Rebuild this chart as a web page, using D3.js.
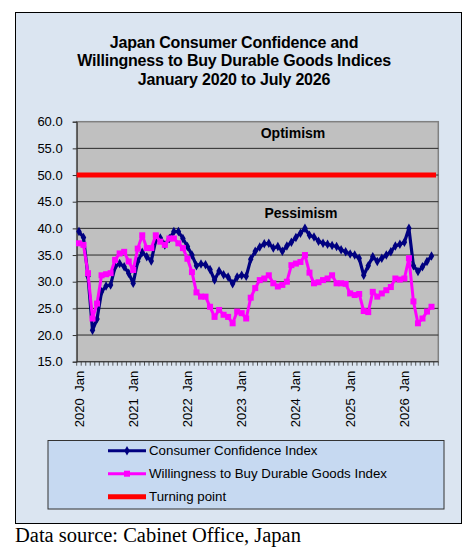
<!DOCTYPE html>
<html>
<head>
<meta charset="utf-8">
<script src="https://cdn.jsdelivr.net/npm/d3@7"></script>
<style>
  body { margin: 0; background: #fff; }
  svg { display: block; font-family: "Liberation Sans", Arial, sans-serif; }
</style>
</head>
<body>
<svg id="chart" width="473" height="552"></svg>
<script>
// categories: one per month, Jan 2020 .. Jul 2026
const years = [2020, 2021, 2022, 2023, 2024, 2025, 2026];
const monthNames = ["Jan","Feb","Mar","Apr","May","Jun","Jul","Aug","Sep","Oct","Nov","Dec"];
const months = [];
years.forEach(yr => monthNames.forEach((m, i) => { if (yr < 2026 || i < 7) months.push(yr + " " + m); }));

// Consumer Confidence Index
const consumerConfidence = [
  39.4, 38.3, 31.0, 20.9, 23.0, 28.1, 29.2, 29.4, 32.8, 33.4, 32.8, 31.6,
  29.7, 33.8, 35.5, 34.7, 33.9, 37.8, 38.2, 36.9, 38.1, 39.4, 39.4, 38.1,
  36.6, 35.0, 33.0, 33.3, 33.2, 32.3, 30.3, 32.0, 31.3, 30.9, 29.6, 30.9,
  31.2, 31.0, 34.2, 35.7, 36.5, 37.1, 37.2, 36.3, 36.6, 35.7, 36.7, 37.4,
  38.3, 39.1, 40.0, 38.7, 38.4, 37.6, 37.2, 37.0, 36.8, 36.6, 36.0, 35.6,
  35.2, 35.0, 34.4, 31.2, 33.0, 34.7, 33.8, 34.4, 35.0, 35.6, 36.7, 37.0,
  37.4, 40.0, 33.0, 31.9, 32.8, 33.8, 34.8
];

// Willingness to Buy Durable Goods Index
const durableGoods = [
  37.2, 36.9, 31.6, 23.1, 25.9, 31.2, 31.4, 31.6, 34.1, 35.3, 35.6, 33.8,
  32.2, 36.2, 38.7, 36.3, 36.3, 38.7, 37.5, 36.9, 38.1, 38.1, 37.2, 36.3,
  34.3, 31.8, 28.0, 27.2, 27.2, 25.3, 23.4, 24.7, 23.8, 23.4, 22.2, 24.4,
  24.1, 23.1, 27.0, 28.8, 30.3, 30.6, 31.2, 29.7, 29.1, 29.4, 30.0, 33.1,
  33.4, 33.7, 35.0, 31.7, 29.7, 29.9, 30.3, 30.6, 31.2, 29.7, 29.7, 29.6,
  27.8, 27.5, 27.7, 24.5, 24.3, 28.1, 27.2, 27.8, 28.4, 29.0, 30.6, 30.4,
  30.6, 34.4, 26.3, 22.2, 23.1, 24.4, 25.3
];

const turningPoint = 50;
const yTicks = [15, 20, 25, 30, 35, 40, 45, 50, 55, 60];
const xLabelMonths = ["2020 Jan", "2021 Jan", "2022 Jan", "2023 Jan", "2024 Jan", "2025 Jan", "2026 Jan"];
const legendItems = ["Consumer Confidence Index", "Willingness to Buy Durable Goods Index", "Turning point"];

const svg = d3.select("#chart");
const plot = { left: 76.7, right: 438.3, top: 121.7, bottom: 361.7 };

// outer chart box
svg.append("rect").attr("x", 15.5).attr("y", 12.5).attr("width", 446).attr("height", 511)
  .attr("fill", "#dbe5f1").attr("stroke", "#000").attr("stroke-width", 1);

// title
const title = ["Japan Consumer Confidence and", "Willingness to Buy Durable Goods Indices", "January 2020 to July 2026"];
svg.append("g").selectAll("text").data(title).join("text")
  .attr("x", 234).attr("y", (d, i) => 48 + i * 18.3)
  .attr("text-anchor", "middle").attr("font-size", 16).attr("font-weight", "bold")
  .attr("letter-spacing", -0.2)
  .attr("fill", "#000").text(d => d);

// 80 slots, last one empty (as in the original sheet)
const x = d3.scaleLinear().domain([-0.5, months.length + 0.5]).range([plot.left, plot.right]);
const y = d3.scaleLinear().domain([15, 60]).range([plot.bottom, plot.top]);

svg.append("rect").attr("x", plot.left).attr("y", plot.top)
  .attr("width", plot.right - plot.left).attr("height", plot.bottom - plot.top)
  .attr("fill", "#c0c0c0").attr("stroke", "#808080").attr("stroke-width", 1.5);

// gridlines
svg.append("g").selectAll("line").data(yTicks.filter(v => v > 15 && v < 60)).join("line")
  .attr("x1", plot.left).attr("x2", plot.right)
  .attr("y1", d => y(d)).attr("y2", d => y(d))
  .attr("stroke", "#2a2a2a").attr("stroke-width", 1);

// y axis
const yAxis = d3.axisLeft(y).tickValues(yTicks).tickFormat(d3.format(".1f")).tickSize(4).tickPadding(10);
const gy = svg.append("g").attr("transform", `translate(${plot.left},0)`).call(yAxis);
gy.select(".domain").attr("stroke", "#333");
gy.selectAll(".tick line").attr("stroke", "#333");
gy.selectAll("text").attr("font-size", 13).attr("fill", "#000").attr("font-family", "Liberation Sans, Arial, sans-serif");

// x axis: a tick at every month boundary
svg.append("line").attr("x1", plot.left).attr("x2", plot.right)
  .attr("y1", plot.bottom).attr("y2", plot.bottom).attr("stroke", "#333");
svg.append("g").selectAll("line").data(d3.range(months.length + 2)).join("line")
  .attr("x1", d => x(d - 0.5)).attr("x2", d => x(d - 0.5))
  .attr("y1", plot.bottom).attr("y2", plot.bottom + 4)
  .attr("stroke", "#333").attr("stroke-width", 0.8);

svg.append("g").selectAll("text").data(xLabelMonths).join("text")
  .attr("transform", d => `translate(${x(months.indexOf(d))},${plot.bottom + 9}) rotate(-90)`)
  .attr("text-anchor", "end").attr("dy", "0.35em")
  .attr("font-size", 13).attr("fill", "#000").attr("word-spacing", 3)
  .text(d => d);

// turning point line
svg.append("line")
  .attr("x1", x(-0.5)).attr("x2", x(months.length))
  .attr("y1", y(turningPoint)).attr("y2", y(turningPoint))
  .attr("stroke", "#ff0000").attr("stroke-width", 5);

const line = d3.line().x((d, i) => x(i)).y(d => y(d));

// consumer confidence
svg.append("path").datum(consumerConfidence)
  .attr("d", line).attr("fill", "none").attr("stroke", "#000080").attr("stroke-width", 3.2)
  .attr("stroke-linejoin", "round");
svg.append("g").selectAll("path").data(consumerConfidence).join("path")
  .attr("transform", (d, i) => `translate(${x(i)},${y(d)})`)
  .attr("d", d3.symbol(d3.symbolDiamond, 26))
  .attr("fill", "#000080");

// durable goods
svg.append("path").datum(durableGoods)
  .attr("d", line).attr("fill", "none").attr("stroke", "#ff00ff").attr("stroke-width", 3)
  .attr("stroke-linejoin", "round");
svg.append("g").selectAll("rect").data(durableGoods).join("rect")
  .attr("x", (d, i) => x(i) - 3).attr("y", d => y(d) - 3)
  .attr("width", 6).attr("height", 6)
  .attr("fill", "#ff00ff");

// zone labels
svg.append("text").attr("x", 293).attr("y", 138).attr("text-anchor", "middle")
  .attr("font-size", 14).attr("font-weight", "bold").text("Optimism");
svg.append("text").attr("x", 301).attr("y", 218).attr("text-anchor", "middle")
  .attr("font-size", 14).attr("font-weight", "bold").text("Pessimism");

// legend
const legend = svg.append("g");
legend.append("rect").attr("x", 48).attr("y", 440.5).attr("width", 396).attr("height", 68.5)
  .attr("fill", "#c6d9f1").attr("stroke", "#333").attr("stroke-width", 1);
const lg = legend.selectAll("g").data(legendItems).join("g")
  .attr("transform", (d, i) => `translate(0,${450.7 + i * 23})`);
lg.append("line").attr("x1", 108).attr("x2", 146).attr("y1", 0).attr("y2", 0)
  .attr("stroke", (d, i) => ["#000080", "#ff00ff", "#ff0000"][i])
  .attr("stroke-width", (d, i) => i === 2 ? 5 : 3);
lg.filter((d, i) => i === 0).append("path").attr("transform", "translate(127,0)")
  .attr("d", d3.symbol(d3.symbolDiamond, 26)).attr("fill", "#000080");
lg.filter((d, i) => i === 1).append("rect").attr("x", 124).attr("y", -3).attr("width", 6).attr("height", 6)
  .attr("fill", "#ff00ff");
lg.append("text").attr("x", 149).attr("y", 0).attr("dy", "0.35em")
  .attr("font-size", 13.3).attr("fill", "#000").text(d => d);

// source
svg.append("text").attr("x", 15).attr("y", 542)
  .attr("font-family", "Liberation Serif, Times New Roman, serif")
  .attr("font-size", 20.5).attr("fill", "#000")
  .text("Data source: Cabinet Office, Japan");
</script>
</body>
</html>
